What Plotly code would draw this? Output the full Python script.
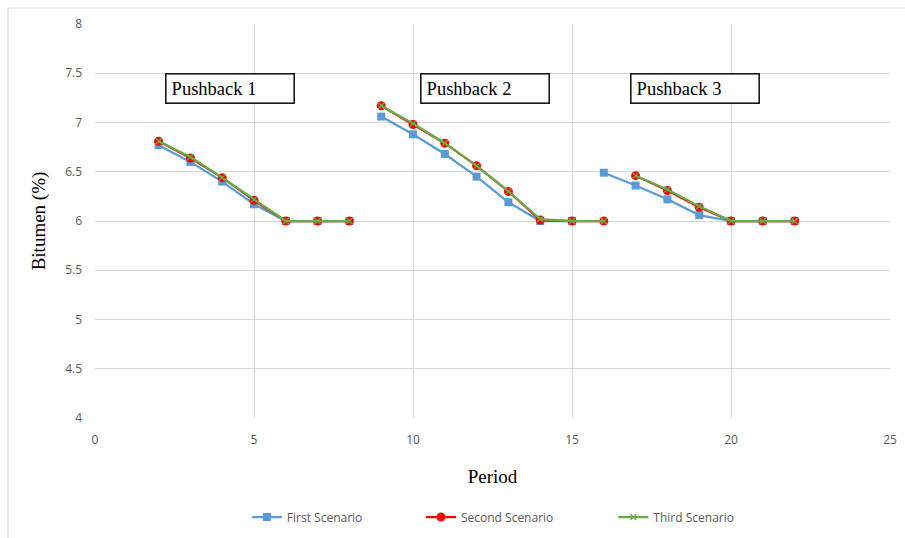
import plotly.graph_objects as go

# Period axis; None breaks the line between pushbacks
period = [2, 3, 4, 5, 6, 7, 8, None, 9, 10, 11, 12, 13, 14, 15, 16, None, 17, 18, 19, 20, 21, 22]

first_period = [2, 3, 4, 5, 6, 7, 8, None, 9, 10, 11, 12, 13, 14, 15, None, 16, 17, 18, 19, 20, 21, 22]
first_scenario = [6.77, 6.60, 6.40, 6.17, 6.00, 6.00, 6.00, None,
                  7.06, 6.88, 6.68, 6.45, 6.19, 6.00, 6.00, None,
                  6.49, 6.36, 6.22, 6.06, 6.00, 6.00, 6.00]

second_scenario = [6.81, 6.64, 6.44, 6.21, 6.00, 6.00, 6.00, None,
                   7.17, 6.98, 6.79, 6.56, 6.30, 6.01, 6.00, 6.00, None,
                   6.46, 6.31, 6.14, 6.00, 6.00, 6.00]

third_scenario = [6.81, 6.65, 6.44, 6.22, 6.00, 6.00, 6.00, None,
                  7.17, 6.99, 6.79, 6.56, 6.30, 6.02, 6.00, 6.00, None,
                  6.46, 6.32, 6.15, 6.00, 6.00, 6.00]

pushback_labels = ["Pushback 1", "Pushback 2", "Pushback 3"]
pushback_x = [4.25, 12.27, 18.88]

series_names = ["First Scenario", "Second Scenario", "Third Scenario"]
legend_ids = ["legend", "legend2", "legend3"]
legend_x = [0.191, 0.410, 0.652]

tick_font = dict(family="Open Sans, Liberation Sans, sans-serif", size=12, color="#595959")
legend_font = dict(family="Open Sans, Liberation Sans, sans-serif", size=12, color="#595959")
serif = "Liberation Serif, Times New Roman, serif"

fig = go.Figure()
fig.add_trace(go.Scatter(
    x=first_period, y=first_scenario, name=series_names[0], mode="lines+markers",
    line=dict(color="#5B9BD5", width=2.25),
    marker=dict(symbol="square", size=8, color="#5B9BD5"),
    legend=legend_ids[0],
))
fig.add_trace(go.Scatter(
    x=period, y=second_scenario, name=series_names[1], mode="lines+markers",
    line=dict(color="#FF0000", width=2.25),
    marker=dict(symbol="circle", size=9, color="#FF0000"),
    legend=legend_ids[1],
))
fig.add_trace(go.Scatter(
    x=period, y=third_scenario, name=series_names[2], mode="lines+markers",
    line=dict(color="#66AD47", width=2.25),
    marker=dict(symbol="x-thin", size=6, color="#66AD47", line=dict(color="#66AD47", width=1.2)),
    legend=legend_ids[2],
))

for label, xc in zip(pushback_labels, pushback_x):
    fig.add_annotation(
        x=xc, y=7.345, xref="x", yref="y", text=label, showarrow=False,
        font=dict(family=serif, size=18.5, color="#000000"),
        bordercolor="#1A1A1A", borderwidth=1.6, borderpad=5,
        width=117, height=18, bgcolor="white", align="left",
    )

# light frame around the chart
fig.add_shape(type="rect", xref="paper", yref="paper",
              x0=-0.1094, x1=1.1, y0=-0.5, y1=1.0406,
              line=dict(color="#D9D9D9", width=1.2), layer="below")

legend_common = dict(orientation="h", xanchor="left", yref="container", y=1 - 517 / 538,
                     yanchor="middle", font=legend_font, itemwidth=30,
                     bgcolor="rgba(0,0,0,0)")

fig.update_layout(
    width=905, height=538,
    margin=dict(l=95, r=15, t=24, b=120, autoexpand=False),
    paper_bgcolor="white", plot_bgcolor="white",
    showlegend=True,
    legend=dict(x=legend_x[0], **legend_common),
    legend2=dict(x=legend_x[1], **legend_common),
    legend3=dict(x=legend_x[2], **legend_common),
    xaxis=dict(range=[0, 25], dtick=5, tick0=0, showgrid=True, gridcolor="#D9D9D9",
               zeroline=False, showline=False, ticks="", tickfont=tick_font,
               ticklabelstandoff=13, automargin=False,
               title=dict(text="Period", font=dict(family=serif, size=19, color="#000000"), standoff=22)),
    yaxis=dict(range=[4, 8], dtick=0.5, tick0=4, showgrid=True, gridcolor="#D9D9D9",
               zeroline=False, showline=False, ticks="", tickfont=tick_font,
               ticklabelstandoff=12, automargin=False,
               title=dict(text="Bitumen (%)", font=dict(family=serif, size=19, color="#000000"), standoff=14)),
)

fig.write_html("out.html")
